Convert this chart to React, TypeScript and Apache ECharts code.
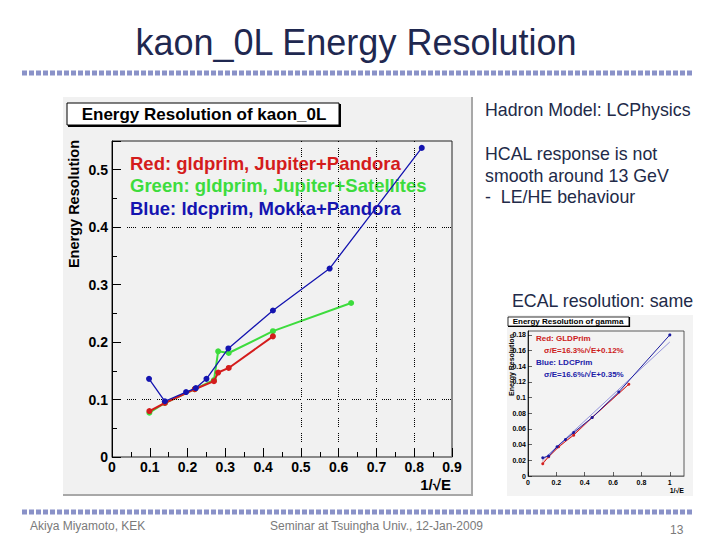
import React, { useEffect, useRef } from "react";
import * as echarts from "echarts";

// ---- main chart data (1/sqrt(E), resolution) ----
const redData: number[][] = [
  [0.099, 0.080], [0.140, 0.094], [0.219, 0.118], [0.270, 0.132],
  [0.281, 0.147], [0.309, 0.155], [0.426, 0.210],
];
const greenData: number[][] = [
  [0.099, 0.077], [0.140, 0.094], [0.219, 0.118], [0.270, 0.134],
  [0.281, 0.184], [0.309, 0.181], [0.426, 0.219], [0.633, 0.268],
];
const blueData: number[][] = [
  [0.098, 0.136], [0.140, 0.097], [0.196, 0.113], [0.222, 0.120],
  [0.250, 0.136], [0.308, 0.189], [0.426, 0.255], [0.576, 0.328],
  [0.820, 0.538],
];
const gridXValues = [0.5, 0.6, 0.7, 0.8];
const gridYValues = [0.1, 0.4];

const legendLines = [
  "Red: gldprim, Jupiter+Pandora",
  "Green: gldprim, Jupiter+Satellites",
  "Blue: ldcprim, Mokka+Pandora",
];
const legendColors = ["#d41c1c", "#3ddc3d", "#1414b0"];

// ---- inset (gamma) data ----
const insetRed: number[][] = [
  [0.104, 0.0157], [0.146, 0.0246], [0.216, 0.0373], [0.322, 0.0521],
  [0.452, 0.0745], [0.711, 0.117],
];
const insetBlue: number[][] = [
  [0.104, 0.0233], [0.146, 0.0254], [0.205, 0.0373], [0.264, 0.0466],
  [0.322, 0.0555], [0.452, 0.0745], [0.640, 0.1072], [1.0, 0.180],
];
const insetRedFit: number[][] = [[0.1, 0.0175], [0.71, 0.117]];
const insetBlueFit: number[][] = [[0.1, 0.020], [1.0, 0.171]];
const insetTexts = [
  { t: "Red: GLDPrim", c: "#cc2020", x: 536, y: 338 },
  { t: "σ/E=16.3%/√E+0.12%", c: "#cc2020", x: 544, y: 350 },
  { t: "Blue: LDCPrim", c: "#2020a8", x: 536, y: 362 },
  { t: "σ/E=16.6%/√E+0.35%", c: "#2020a8", x: 544, y: 374 },
];

const sideTexts = [
  { t: "Hadron Model: LCPhysics", x: 485, y: 110 },
  { t: "HCAL response is not", x: 485, y: 154 },
  { t: "smooth around 13 GeV", x: 485, y: 176 },
  { t: "-  LE/HE behaviour", x: 485, y: 197 },
  { t: "ECAL resolution: same", x: 512, y: 301 },
];

const F = "'Liberation Sans', Arial, Helvetica, sans-serif";

function txt(text: string, x: number, y: number, size: number, color: string, weight: string = "normal", align: string = "left", extra: any = {}) {
  return {
    type: "text",
    x, y,
    silent: true,
    ...extra,
    style: {
      text,
      fill: color,
      fontSize: size,
      fontWeight: weight,
      fontFamily: F,
      textAlign: align,
      align,
      textVerticalAlign: "middle",
      verticalAlign: "middle",
    },
  };
}

export default function App() {
  const ref = useRef<HTMLDivElement>(null);
  useEffect(() => {
    if (!ref.current) return;
    const chart = echarts.init(ref.current, undefined, { renderer: "svg" });

    const graphics: any[] = [
      // slide title
      txt("kaon_0L Energy Resolution", 356, 42, 36, "#1f2850", "normal", "center"),
      {
        type: "line", silent: true,
        shape: { x1: 22, y1: 73, x2: 694, y2: 73 },
        style: { stroke: "#8a92c8", lineWidth: 5, lineDash: [5, 2] },
      },
      {
        type: "line", silent: true,
        shape: { x1: 22, y1: 512, x2: 694, y2: 512 },
        style: { stroke: "#8a92c8", lineWidth: 5, lineDash: [5, 2] },
      },
      txt("Akiya Miyamoto, KEK", 30, 526, 12, "#7a7a7a"),
      txt("Seminar at Tsuingha Univ., 12-Jan-2009", 270, 526, 12, "#7a7a7a"),
      txt("13", 670, 530, 12, "#7a7a7a"),
      // main pad
      {
        type: "rect", silent: true, z: -1,
        shape: { x: 63, y: 97, width: 409, height: 398 },
        style: { fill: "#f1f1f1" },
      },
      {
        type: "polyline", silent: true, z: -1,
        shape: { points: [[472, 97], [472, 495], [63, 495]] },
        style: { stroke: "#a8a8a8", lineWidth: 2, fill: null },
      },
      // title box
      {
        type: "rect", silent: true,
        shape: { x: 67, y: 103, width: 272, height: 22 },
        style: { fill: "#ffffff", stroke: "#000", lineWidth: 1 },
      },
      {
        type: "polyline", silent: true,
        shape: { points: [[340, 104], [340, 126], [68, 126]] },
        style: { stroke: "#000", lineWidth: 2, fill: null },
      },
      txt("Energy Resolution of kaon_0L", 204, 114, 17, "#000", "bold", "center"),
      txt("Energy Resolution", 74, 204, 14.5, "#000", "bold", "center", { rotation: Math.PI / 2 }),
      txt("1/√E", 451, 484, 15, "#000", "bold", "right"),
      // inset pad
      {
        type: "rect", silent: true, z: -1,
        shape: { x: 507, y: 315, width: 186, height: 181 },
        style: { fill: "#f3f3f3" },
      },
      {
        type: "rect", silent: true,
        shape: { x: 508, y: 317, width: 121, height: 9 },
        style: { fill: "#ffffff", stroke: "#000", lineWidth: 0.8 },
      },
      {
        type: "polyline", silent: true,
        shape: { points: [[629.5, 317], [629.5, 326.5], [508, 326.5]] },
        style: { stroke: "#000", lineWidth: 1.2, fill: null },
      },
      txt("Energy Resolution of gamma", 568, 321.5, 8, "#000", "bold", "center"),
      txt("Energy Resolution", 511, 365, 7, "#000", "bold", "center", { rotation: Math.PI / 2 }),
      txt("1/√E", 684, 490, 7, "#000", "bold", "right"),
    ];
    legendLines.forEach((t, i) => {
      graphics.push(txt(t, 130, 163 + i * 22.5, 18.5, legendColors[i], "bold"));
    });
    sideTexts.forEach((s) => graphics.push(txt(s.t, s.x, s.y, 17.8, "#222a48")));
    insetTexts.forEach((s) => graphics.push(txt(s.t, s.x, s.y, 8, s.c, "bold")));

    const axisLabelMain = { color: "#000", fontSize: 14, fontWeight: "bold", fontFamily: F };
    const axisLabelInset = { color: "#000", fontSize: 7, fontWeight: "bold", fontFamily: F };

    chart.setOption({
      animation: false,
      backgroundColor: "#ffffff",
      graphic: graphics,
      grid: [
        { left: 112, right: 268, top: 141, bottom: 83, show: true, borderColor: "#222", borderWidth: 1 },
        { left: 528, right: 36, top: 331, bottom: 64, show: true, borderColor: "#333", borderWidth: 0.8 },
      ],
      xAxis: [
        {
          type: "value", gridIndex: 0, min: 0, max: 0.9, interval: 0.1,
          axisLine: { show: true, lineStyle: { color: "#888", width: 1.5 } },
          axisTick: { show: true, inside: true, length: 9, lineStyle: { color: "#000" } },
          minorTick: { show: true, splitNumber: 2, length: 5, lineStyle: { color: "#000" } },
          splitLine: { show: false },
          axisLabel: { ...axisLabelMain, margin: 3 },
        },
        {
          type: "value", gridIndex: 1, min: 0, max: 1.1, interval: 0.2,
          axisLine: { show: true, lineStyle: { color: "#666", width: 0.8 } },
          axisTick: { show: true, inside: true, length: 4, lineStyle: { color: "#000", width: 0.6 } },
          splitLine: { show: false },
          axisLabel: { ...axisLabelInset, margin: 3, showMaxLabel: false },
        },
      ],
      yAxis: [
        {
          type: "value", gridIndex: 0, min: 0, max: 0.55, interval: 0.1,
          axisLine: { show: true, lineStyle: { color: "#000", width: 1 } },
          axisTick: { show: true, inside: true, length: 9, lineStyle: { color: "#000" } },
          minorTick: { show: true, splitNumber: 2, length: 5, lineStyle: { color: "#000" } },
          splitLine: { show: false },
          axisLabel: { ...axisLabelMain, margin: 4, showMaxLabel: false },
        },
        {
          type: "value", gridIndex: 1, min: 0, max: 0.185, interval: 0.02,
          axisLine: { show: true, lineStyle: { color: "#000", width: 0.8 } },
          axisTick: { show: true, inside: true, length: 4, lineStyle: { color: "#000", width: 0.6 } },
          splitLine: { show: false },
          axisLabel: { ...axisLabelInset, margin: 2, showMaxLabel: false },
        },
      ],
      series: [
        {
          type: "line", xAxisIndex: 0, yAxisIndex: 0, data: greenData,
          symbol: "circle", symbolSize: 6,
          lineStyle: { color: "#3ddc3d", width: 2 }, itemStyle: { color: "#3ddc3d" },
          z: 3,
        },
        {
          type: "line", xAxisIndex: 0, yAxisIndex: 0, data: redData,
          symbol: "circle", symbolSize: 6,
          lineStyle: { color: "#d41c1c", width: 2 }, itemStyle: { color: "#d41c1c" },
          z: 4,
          markLine: {
            silent: true, symbol: "none", label: { show: false },
            lineStyle: { color: "#000", width: 1, type: [1, 1, 1, 1, 1, 1, 1, 1, 1, 6] },
            data: [
              ...gridXValues.map((v) => ({ xAxis: v })),
              ...gridYValues.map((v) => ({ yAxis: v })),
            ],
          },
        },
        {
          type: "line", xAxisIndex: 0, yAxisIndex: 0, data: blueData,
          symbol: "circle", symbolSize: 6,
          lineStyle: { color: "#1414b0", width: 1.3 }, itemStyle: { color: "#1414b0" },
          z: 5,
        },
        {
          type: "line", xAxisIndex: 1, yAxisIndex: 1, data: insetBlueFit,
          symbol: "none", lineStyle: { color: "#6a6ad0", width: 0.7 }, z: 2,
        },
        {
          type: "line", xAxisIndex: 1, yAxisIndex: 1, data: insetRedFit,
          symbol: "none", lineStyle: { color: "#e06a6a", width: 0.7 }, z: 2,
        },
        {
          type: "line", xAxisIndex: 1, yAxisIndex: 1, data: insetRed,
          symbol: "circle", symbolSize: 3,
          lineStyle: { color: "#d42020", width: 1 }, itemStyle: { color: "#d42020" }, z: 3,
        },
        {
          type: "line", xAxisIndex: 1, yAxisIndex: 1, data: insetBlue,
          symbol: "circle", symbolSize: 3,
          lineStyle: { color: "#1a1aa0", width: 1 }, itemStyle: { color: "#1a1aa0" }, z: 4,
        },
      ],
    });
    return () => chart.dispose();
  }, []);
  return (
    <div
      ref={ref}
      style={{ position: "fixed", left: 0, top: 0, width: 720, height: 540, background: "#fff" }}
    />
  );
}
